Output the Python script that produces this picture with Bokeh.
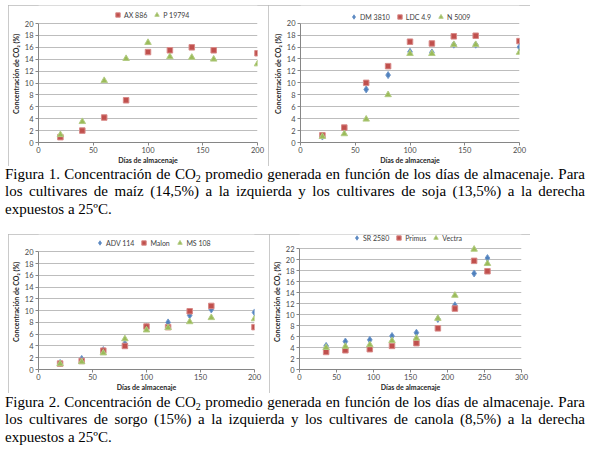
from bokeh.plotting import figure
from bokeh.models import Range1d, FixedTicker, Legend, LegendItem, Div, Spacer
from bokeh.layouts import row, column
from bokeh.embed import file_html
from bokeh.resources import INLINE

# ---------------- data ----------------
maiz_dias = [20, 40, 60, 80, 100, 120, 140, 160, 200]
ax886 = [0.9, 2.0, 4.2, 7.1, 15.2, 15.5, 16.0, 15.5, 15.0]
p19794 = [1.3, 3.5, 10.4, 14.1, 16.8, 14.4, 14.3, 14.0, 13.2]

soja_dias = [20, 40, 60, 80, 100, 120, 140, 160, 200]
dm3810 = [1.0, 2.3, 8.9, 11.3, 15.2, 15.1, 16.4, 16.4, 16.0]
ldc49 = [1.2, 2.5, 10.0, 12.8, 16.9, 16.6, 17.8, 17.9, 17.0]
n5009 = [1.0, 1.45, 3.9, 8.0, 14.9, 14.9, 16.4, 16.4, 15.1]

sorgo_dias = [20, 40, 60, 80, 100, 120, 140, 160, 200]
adv114 = [1.1, 1.8, 3.3, 4.4, 7.2, 8.0, 9.2, 10.2, 9.7]
malon = [1.0, 1.45, 3.2, 4.0, 7.3, 7.2, 9.9, 10.8, 7.2]
ms108 = [0.95, 1.3, 2.8, 5.2, 6.7, 7.1, 8.1, 8.8, 8.6]

canola_dias = [36, 62, 95, 125, 158, 187, 210, 236, 254]
sr2580 = [4.3, 5.1, 5.4, 6.1, 6.7, 9.2, 11.7, 17.5, 20.3]
primus = [3.2, 3.5, 3.7, 4.3, 4.8, 7.5, 11.1, 19.8, 17.9]
vectra = [4.0, 4.2, 4.5, 5.25, 5.7, 9.3, 13.5, 21.9, 19.3]

ticks_x200 = [0, 50, 100, 150, 200]
ticks_x300 = [0, 50, 100, 150, 200, 250, 300]
ticks_y20 = list(range(0, 21, 2))
ticks_y22 = list(range(0, 23, 2))

x_label = "Días de almacenaje"
y_label = "Concentración de CO₂ (%)"

caption1_l1 = 'Figura 1. Concentración de CO<sub>2</sub> promedio generada en función de los días de almacenaje. Para'
caption1_l2 = 'los cultivares de maíz (14,5%) a la izquierda y los cultivares de soja (13,5%) a la derecha'
caption1_l3 = 'expuestos a 25ºC.'
caption2_l1 = 'Figura 2. Concentración de CO<sub>2</sub> promedio generada en función de los días de almacenaje. Para'
caption2_l2 = 'los cultivares de sorgo (15%) a la izquierda y los cultivares de canola (8,5%) a la derecha'
caption2_l3 = 'expuestos a 25ºC.'

BLUE = "#4F81BD"
RED = "#C0504D"
GREEN = "#9BBB59"
FONT = "Lato"

STYLE = {
    "diamond": dict(marker="diamond", size=7, fill_color=BLUE, line_color="#7299cb"),
    "square": dict(marker="square", size=5.5, fill_color=RED, line_color="#d88a88"),
    "triangle": dict(marker="triangle", size=6.5, fill_color=GREEN, line_color="#b3cc84"),
}


def panel(width, height, xmax, xticks, ymax, yticks, series, mb, data_px, leg_x, leg_y):
    """mb = (left, right, bottom) borders; data_px = pixel height of 0..ymax.
    The frame reaches the top of the figure so the legend sits inside it,
    above the ymax gridline; the y axis line is bounded to 0..ymax."""
    left, right, bottom = mb
    frame_h = height - bottom
    y_end = ymax * frame_h / data_px
    p = figure(width=width, height=height, output_backend="svg", toolbar_location=None,
               x_range=Range1d(0, xmax), y_range=Range1d(0, y_end),
               min_border_left=left, min_border_right=right,
               min_border_top=0, min_border_bottom=bottom)
    p.background_fill_color = "white"
    p.border_fill_color = "white"
    p.outline_line_color = None
    p.styles = {"outline": "1px solid #b8b8b8", "outline-offset": "-1px"}

    items = []
    for name, xs, ys, kind in series:
        r = p.scatter(xs, ys, line_width=1, **STYLE[kind])
        items.append(LegendItem(label=name, renderers=[r]))
    leg = Legend(items=items, orientation="horizontal", location=(leg_x, leg_y),
                 padding=2, margin=0, spacing=4, glyph_width=11, glyph_height=11,
                 label_standoff=1, label_height=10,
                 label_text_font=FONT, label_text_font_size="7px",
                 label_text_color="#404040",
                 border_line_color=None, background_fill_alpha=0)
    p.add_layout(leg, "center")

    p.xaxis.ticker = FixedTicker(ticks=xticks)
    p.yaxis.ticker = FixedTicker(ticks=yticks)
    p.yaxis.bounds = (0, ymax)
    p.xgrid.grid_line_color = None
    p.ygrid.grid_line_color = "#bdbdbd"
    p.ygrid.grid_line_width = 1
    for ax in (p.xaxis[0], p.yaxis[0]):
        ax.axis_line_color = "#868686"
        ax.major_tick_line_color = "#868686"
        ax.major_tick_out = 3
        ax.major_tick_in = 0
        ax.minor_tick_line_color = None
        ax.major_label_text_font = FONT
        ax.major_label_text_font_size = "7.5px"
        ax.major_label_text_color = "#4a4a4a"
        ax.major_label_standoff = 2
        ax.axis_label_text_font = FONT
        ax.axis_label_text_font_size = "7px"
        ax.axis_label_text_font_style = "bold"
        ax.axis_label_text_color = "#262626"
        ax.axis_label_standoff = 2
    p.xaxis[0].major_label_standoff = 1
    p.xaxis[0].axis_label_standoff = 0
    p.xaxis.axis_label = x_label
    p.yaxis.axis_label = y_label
    return p


p1 = panel(260, 161, 200, ticks_x200, 20, ticks_y20,
           [("AX 886", maiz_dias, ax886, "square"),
            ("P 19794", maiz_dias, p19794, "triangle")],
           (24, 11, 22), 120.7, 74, 122)
p2 = panel(262, 161, 200, ticks_x200, 20, ticks_y20,
           [("DM 3810", soja_dias, dm3810, "diamond"),
            ("LDC 4.9", soja_dias, ldc49, "square"),
            ("N 5009", soja_dias, n5009, "triangle")],
           (32, 11, 24), 119.3, 48, 120)
p3 = panel(261, 159, 200, ticks_x200, 20, ticks_y20,
           [("ADV 114", sorgo_dias, adv114, "diamond"),
            ("Malon", sorgo_dias, malon, "square"),
            ("MS 108", sorgo_dias, ms108, "triangle")],
           (24, 15, 21), 120.3, 56, 121)
p4 = panel(261, 159, 300, ticks_x300, 22, ticks_y22,
           [("SR 2580", canola_dias, sr2580, "diamond"),
            ("Primus", canola_dias, primus, "square"),
            ("Vectra", canola_dias, vectra, "triangle")],
           (25, 9, 20), 124.3, 52, 126)


def caption(l1, l2, l3, height, pad_top):
    just = "text-align:justify;text-align-last:justify;"
    sub_fix = '<sub style="font-size:10px;line-height:0;vertical-align:-3px">'
    l1 = l1.replace("<sub>", sub_fix)
    html = (f'<div style="margin-left:5px;width:580px;padding-top:{pad_top}px;'
            f'font-family:\'Liberation Serif\';font-size:15px;line-height:17.4px;color:#000;">'
            f'<div style="{just}">{l1}</div>'
            f'<div style="{just}">{l2}</div>'
            f'<div>{l3}</div></div>')
    return Div(text=html, width=586, height=height, margin=0)


d1 = caption(caption1_l1, caption1_l2, caption1_l3, 68, 0)
d2 = caption(caption2_l1, caption2_l2, caption2_l3, 52, 1)

layout = column(Spacer(height=5),
                row(Spacer(width=8), p1, p2),
                d1,
                row(Spacer(width=8), p3, p4),
                d2)

open("out.html", "w").write(file_html(layout, INLINE))
